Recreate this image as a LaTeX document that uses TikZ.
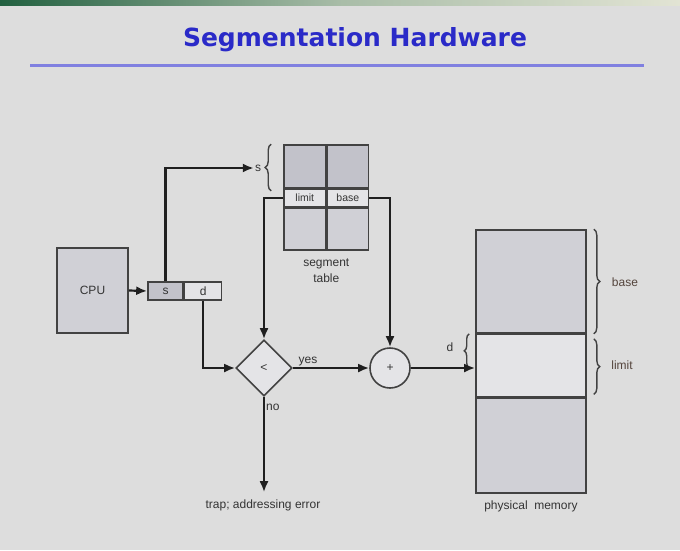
\documentclass[tikz,border=0pt]{standalone}
\usepackage{fontspec}
\setmainfont{Liberation Sans}
\setsansfont{Liberation Sans}
\newfontfamily\titlefont{DejaVu Sans}
\usetikzlibrary{arrows.meta,positioning,shapes.geometric,decorations.pathreplacing}
\definecolor{cBg}{RGB}{221,221,221}
\definecolor{cBox}{RGB}{208,208,214}
\definecolor{cDark}{RGB}{194,194,202}
\definecolor{cLight}{RGB}{228,228,231}
\definecolor{cEdge}{RGB}{66,66,66}
\definecolor{cText}{RGB}{52,52,52}
\definecolor{cTitle}{RGB}{42,42,200}
\definecolor{cRule}{RGB}{128,128,224}
\definecolor{cBrown}{RGB}{84,68,60}
\definecolor{cGreen}{RGB}{34,96,64}
\definecolor{cPale}{RGB}{226,228,212}
\tikzset{
  cell/.style={draw=cEdge, line width=1.6pt, fill=cBox, inner sep=0pt,
    font=\fontsize{12}{14}\selectfont, text=cText},
  wire/.style={line width=2.2pt, black!88},
  arr/.style={wire, -{Latex[length=11pt,width=9pt]}},
  brc/.style={decorate, decoration={brace, amplitude=6pt}, line width=1.4pt, cEdge},
  lbl/.style={font=\fontsize{12}{16}\selectfont, text=cText, inner sep=1pt},
}

\begin{document}
\begin{tikzpicture}[x=1pt, y=-1pt]
  \useasboundingbox (0,0) rectangle (680,550);
  \fill[cBg] (0,0) rectangle (680,550);
  \shade[left color=cGreen, right color=cPale, middle color=cPale!70!cGreen] (0,0) rectangle (680,5);
  % title
  \node[font=\titlefont\bfseries\fontsize{25}{30}\selectfont, text=cTitle] (title) at (355,40) {Segmentation Hardware};
  \draw[cRule, line width=3pt] (30,65) -- (644,65);
  % cpu and logical address
  \node[cell, minimum width=71pt, minimum height=85pt] (cpu) at (92.5,290.5) {CPU};
  \node[cell, fill=cDark, minimum width=35pt, minimum height=18pt] (s) at (165.5,291) {s};
  \node[cell, fill=cLight, minimum width=37pt, minimum height=18pt, right=0pt of s] (d) {d};
  % segment table
  \node[cell, fill=cDark, minimum width=41.5pt, minimum height=43pt] (tl) at (304.75,166.5) {};
  \node[cell, fill=cDark, minimum width=41.5pt, minimum height=43pt, right=0pt of tl] (tr) {};
  \node[cell, fill=cLight, minimum width=41.5pt, minimum height=17pt, below=0pt of tl,
    font=\fontsize{10.5}{12}\selectfont] (lim) {limit};
  \node[cell, fill=cLight, minimum width=41.5pt, minimum height=17pt, right=0pt of lim,
    font=\fontsize{10.5}{12}\selectfont] (bas) {base};
  \node[cell, minimum width=41.5pt, minimum height=42pt, below=0pt of lim] (bl) {};
  \node[cell, minimum width=41.5pt, minimum height=42pt, right=0pt of bl] (br) {};
  \node[lbl, align=center, below=7pt of bl.south east] (tname) {segment\\table};
  \node[lbl] (sidx) at (258,168) {s};
  \draw[brc] ([xshift=-12pt,yshift=-2pt]tl.south west) -- ([xshift=-12pt]tl.north west);
  % compare and add
  \node[cell, diamond, fill=cLight, aspect=1, minimum width=56pt, minimum height=56pt] (lt) at (264,368) {<};
  \node[cell, circle, fill=cLight, minimum size=40pt] (add) at (390,368) {+};
  \node[lbl] (trap) at (263,505) {trap; addressing error};
  % physical memory
  \node[cell, minimum width=110pt, minimum height=103pt] (mbase) at (531,281.5) {};
  \node[cell, fill=cLight, minimum width=110pt, minimum height=62pt, below=0pt of mbase] (mlim) {};
  \node[cell, minimum width=110pt, minimum height=95pt, below=0pt of mlim] (mrest) {};
  \node[lbl, below=6pt of mrest] (mname) {physical\ \ memory};
  \coordinate (hit) at (add.east -| mlim.west);
  \draw[brc] ([xshift=7pt]mbase.north east) -- ([xshift=7pt]mbase.south east);
  \draw[brc] ([xshift=7pt,yshift=-5pt]mlim.north east) -- ([xshift=7pt,yshift=3pt]mlim.south east);
  \draw[brc, decoration={brace, amplitude=5pt}] ([xshift=-6pt]hit) -- ([xshift=-6pt]mlim.north west);
  \node[lbl, text=cBrown] (bname) at (625,282) {base};
  \node[lbl, text=cBrown] (lname) at (622,365) {limit};
  \node[lbl] (dofs) at (450,347) {d};
  % wires
  \draw[arr] (cpu.east) -- (s.west);
  \draw[arr] (s.north) |- (sidx.west);
  \draw[arr] (lim.west) -| (lt.north);
  \draw[arr] (bas.east) -| (add.north);
  \draw[arr] (d.south) |- (lt.west);
  \draw[arr] (lt.east) -- node[lbl, above, pos=0.2] (yes) {yes} (add.west);
  \draw[arr] (add.east) -- (hit);
  \draw[arr, shorten >=6pt] (lt.south) -- node[lbl, right, pos=0.1] (no) {no} (lt.south |- trap.north);
\end{tikzpicture}
\end{document}
